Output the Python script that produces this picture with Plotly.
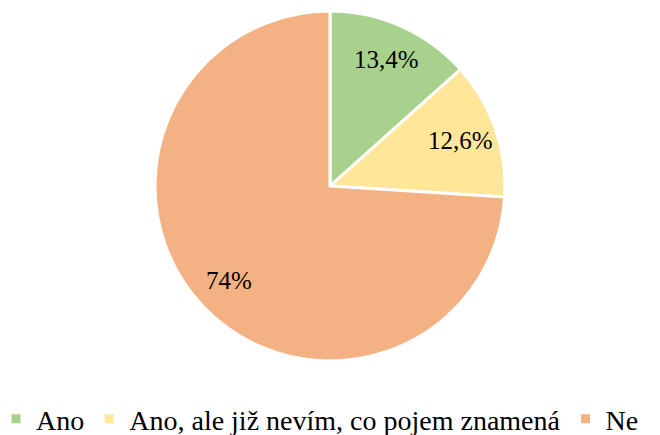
import math
import plotly.graph_objects as go

labels = ["Ano", "Ano, ale již nevím, co pojem znamená", "Ne"]
values = [13.4, 12.6, 74.0]
text_labels = ["13,4%", "12,6%", "74%"]
colors = ["#A9D18E", "#FFE699", "#F4B183"]

FONT = "Liberation Serif"

# layout geometry (pixels)
W, H = 660, 435
MB = 74
PLOT_H = H - MB
CX, CY, R = 330, 186, 175
LABEL_R = 0.79

fig = go.Figure(go.Pie(
    labels=labels,
    values=values,
    textinfo="none",
    sort=False,
    direction="clockwise",
    rotation=0,
    domain=dict(x=[(CX - R) / W, (CX + R) / W],
                y=[1 - (CY + R) / PLOT_H, 1 - (CY - R) / PLOT_H]),
    marker=dict(colors=colors, line=dict(color="white", width=3)),
    hoverinfo="label+percent",
))

# data labels placed at the middle angle of each slice
total = sum(values)
cum = 0.0
for v, t in zip(values, text_labels):
    mid = (cum + v / 2) / total * 2 * math.pi
    cum += v
    px = CX + LABEL_R * R * math.sin(mid)
    py = CY - LABEL_R * R * math.cos(mid)
    fig.add_annotation(x=px / W, y=1 - py / PLOT_H, xref="paper", yref="paper",
                       text=t, showarrow=False, xanchor="center", yanchor="middle",
                       font=dict(family=FONT, size=25, color="black"))

fig.update_layout(
    width=W, height=H,
    margin=dict(l=0, r=0, t=0, b=MB, autoexpand=False),
    paper_bgcolor="white",
    plot_bgcolor="white",
    font=dict(family=FONT, size=28, color="black"),
    showlegend=True,
    legend=dict(
        orientation="h",
        x=-4 / W, xanchor="left",
        y=-(419 - PLOT_H) / PLOT_H, yanchor="middle",
        font=dict(family=FONT, size=28, color="black"),
        itemwidth=30,
    ),
)

fig.write_html(
    "out.html",
    config={"displayModeBar": False},
    post_script="document.body.style.margin='0';document.body.style.overflow='hidden';",
)
